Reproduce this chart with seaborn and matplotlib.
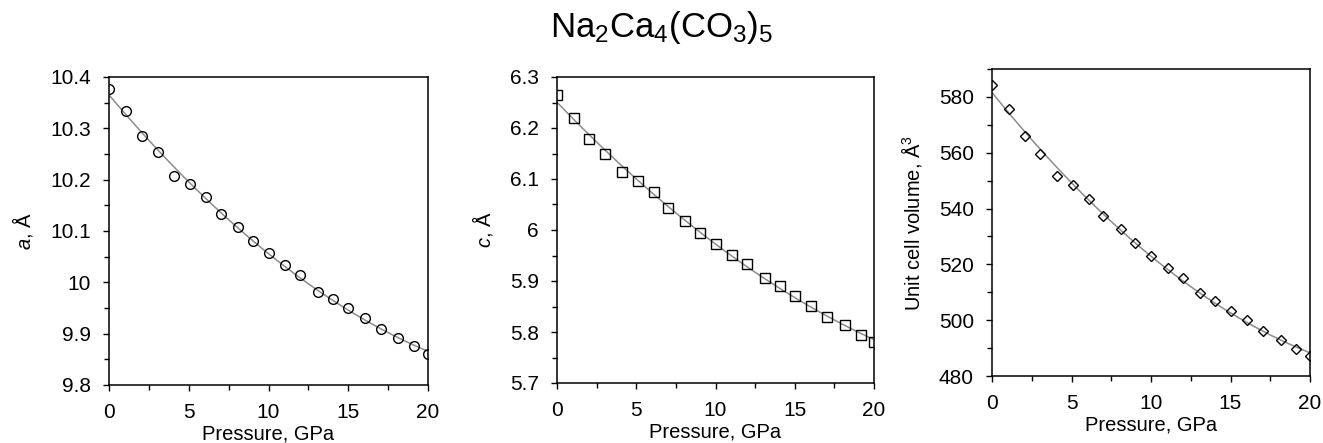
import numpy as np
import pandas as pd
import seaborn as sns
import matplotlib
matplotlib.use("Agg")
from matplotlib import pyplot as plt
from matplotlib.ticker import MultipleLocator, StrMethodFormatter

# pressure points, GPa
pressure = [0, 1.05, 2.05, 3.05, 4.1, 5.1, 6.1, 7.0, 8.1, 9.0, 10.0,
            11.05, 12.0, 13.1, 14.05, 15.0, 16.05, 17.05, 18.15, 19.15, 20.0]

# cell parameter a, Å
a_param = [10.377, 10.334, 10.285, 10.253, 10.207, 10.191, 10.166, 10.133,
           10.108, 10.081, 10.057, 10.033, 10.014, 9.982, 9.967, 9.950,
           9.931, 9.909, 9.891, 9.876, 9.860]

# cell parameter c, Å
c_param = [6.264, 6.220, 6.179, 6.149, 6.114, 6.097, 6.074, 6.044, 6.018,
           5.995, 5.973, 5.951, 5.933, 5.905, 5.890, 5.870, 5.851, 5.829,
           5.814, 5.795, 5.781]

# unit cell volume, Å^3
volume = [584.4, 575.5, 566.0, 559.7, 551.6, 548.4, 543.5, 537.4, 532.5,
          527.6, 523.1, 518.7, 515.1, 509.6, 506.7, 503.2, 500.1, 496.0,
          493.0, 489.8, 487.1]

df = pd.DataFrame({"P": pressure, "a": a_param, "c": c_param, "V": volume})

sns.set_style("ticks")
plt.rcParams["font.family"] = ["Liberation Sans", "DejaVu Sans"]
plt.rcParams["mathtext.fontset"] = "custom"
plt.rcParams["mathtext.rm"] = "Liberation Sans"
plt.rcParams["mathtext.it"] = "Liberation Sans:italic"
plt.rcParams["text.color"] = "black"
plt.rcParams["axes.labelcolor"] = "black"
plt.rcParams["xtick.color"] = "black"
plt.rcParams["ytick.color"] = "black"

fig = plt.figure(figsize=(13.23, 4.43), dpi=100)
W, H = 1323, 443

# panel boxes in pixels: left, top, right, bottom
boxes = [(109, 77, 428, 385), (557, 77, 874, 383), (992, 69, 1310, 376)]
panels = [
    ("a", r"$a$, Å", (9.8, 10.4), 0.1, 0.05, "o"),
    ("c", r"$c$, Å", (5.7, 6.3), 0.1, 0.05, "s"),
    ("V", r"Unit cell volume, Å$^3$", (480, 590), 20, 10, "D"),
]

for (l, t, r, b), (col, ylab, ylim, maj, mnr, mk) in zip(boxes, panels):
    ax = fig.add_axes([l / W, 1 - b / H, (r - l) / W, (b - t) / H])
    ms = 7 if mk != "D" else 5.5
    sns.regplot(data=df, x="P", y=col, order=2, ci=None, ax=ax,
                scatter=False, line_kws=dict(color="#8c8c8c", lw=1.1))
    ax.plot(df["P"], df[col], linestyle="none", marker=mk, ms=ms,
            mfc="none", mec="black", mew=1.0)
    ax.set_xlim(0, 20)
    ax.set_ylim(*ylim)
    ax.xaxis.set_major_locator(MultipleLocator(5))
    ax.xaxis.set_minor_locator(MultipleLocator(2.5))
    ax.yaxis.set_major_locator(MultipleLocator(maj))
    ax.yaxis.set_minor_locator(MultipleLocator(mnr))
    ax.yaxis.set_major_formatter(StrMethodFormatter("{x:g}"))
    ax.tick_params(which="both", direction="out", bottom=True, left=True,
                   top=False, right=False)
    ax.tick_params(which="major", length=4, width=1, labelsize=15, pad=9)
    ax.tick_params(which="minor", length=3.5, width=1)
    for s in ax.spines.values():
        s.set_linewidth(1.1)
        s.set_color("black")
    ax.set_xlabel("Pressure, GPa", fontsize=14.5, labelpad=2)
    ax.set_ylabel(ylab, fontsize=14.5, labelpad=11)

fig.text(0.5, 1 - 28 / H, r"Na$_2$Ca$_4$(CO$_3$)$_5$", ha="center", va="center",
         fontsize=25)

fig.savefig("out.png", dpi=100)
